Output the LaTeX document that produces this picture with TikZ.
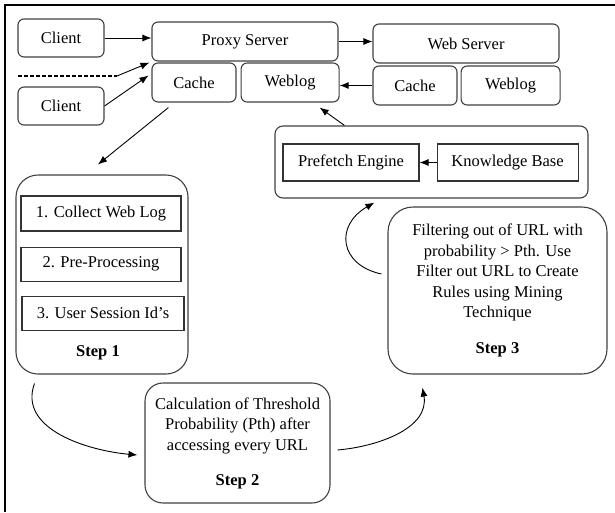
\documentclass[tikz,border=0pt]{standalone}
\usepackage{fontspec}
\setmainfont{Liberation Serif}
\usetikzlibrary{arrows.meta,positioning,calc}

\begin{document}
\begin{tikzpicture}[x=1pt, y=1pt, >={Latex[length=9pt,width=7pt]},
      every node/.style={font=\fontsize{16.5}{20.5}\selectfont},
      rbox/.style={draw=black!75, line width=1.1pt, rounded corners=6pt, inner sep=0pt},
      sbox/.style={draw=black!80, line width=1.1pt, inner sep=0pt},
      stepbox/.style={rbox, align=center},
      link/.style={->, line width=0.9pt}]
     \useasboundingbox (0,0) rectangle (615,-512);
     % frame, only top and left edges
     \draw[line width=2.2pt] (5,-512) -- (5,-5) -- (615,-5);

     % clients, proxy and web server
     \node[rbox, minimum width=86pt, minimum height=38pt] (client1) at (61,-38) {Client};
     \node[rbox, minimum width=86pt, minimum height=38pt] (client2) at (61,-106) {Client};
     \node[rbox, minimum width=186pt, minimum height=39pt] (proxy) at (245,-41.5) {Proxy Server};
     \node[rbox, minimum width=84pt, minimum height=39pt] (pcache) at (194,-82.5) {Cache};
     \node[rbox, minimum width=98pt, minimum height=39pt, right=4pt of pcache] (pweblog) {Weblog};
     \node[rbox, minimum width=186pt, minimum height=39pt] (web) at (466,-43.5) {Web Server};
     \node[rbox, minimum width=84pt, minimum height=39pt] (wcache) at (415,-85.5) {Cache};
     \node[rbox, minimum width=99pt, minimum height=39pt, right=3pt of wcache] (wweblog) {Weblog};

     % prefetching block
     \node[rbox, minimum width=313pt, minimum height=72pt, rounded corners=8pt] (prefetch) at (431.5,-162) {};
     \node[sbox, minimum width=136pt, minimum height=37pt] (engine) at (351,-162.5) {Prefetch Engine};
     \node[sbox, minimum width=141pt, minimum height=37pt, right=17pt of engine] (kbase) {Knowledge Base};

     % step 1
     \node[rbox, minimum width=172pt, minimum height=199pt, rounded corners=22pt] (step1) at (102,-274.5) {};
     \node[sbox, minimum width=160pt, minimum height=35pt] (item1) at (101,-213.5) {1. Collect Web Log};
     \node[sbox, minimum width=160pt, minimum height=34pt, below=15pt of item1] (item2) {2. Pre-Processing\hspace{28pt}};
     \node[sbox, minimum width=162pt, minimum height=34pt, below=14pt of item2, xshift=2pt] (item3) {3. User Session Id’s};
     \node[font=\fontsize{16.5}{20.5}\selectfont\bfseries] (step1lbl) at ($(step1.south)+(-4,22)$) {Step 1};

     % step 2 and step 3
     \node[stepbox, minimum width=185pt, minimum height=120pt, rounded corners=18pt] (step2) at (237.5,-443)
       {Calculation of Threshold\\Probability (Pth) after\\accessing every URL\\[14.5pt]\textbf{Step 2}};
     \node[stepbox, minimum width=219pt, minimum height=167pt, rounded corners=25pt] (step3) at (497.5,-290.5)
       {Filtering out of URL with\\probability > Pth. Use\\Filter out URL to Create\\Rules using Mining\\Technique\\[15.5pt]\textbf{Step 3}};

     % connectors
     \coordinate (dashL) at (18,-76);
     \coordinate (dashR) at (117,-76);
     \draw[line width=1.5pt, dash pattern=on 4pt off 2pt] (dashL) -- (dashR);
     \draw[link] (dashR) -- ($(proxy.south west)+(-2,-1)$);
     \draw[link] (client1.east) -- (client1.east -| proxy.west);
     \draw[link] (client2.east) -- ($(pcache.west)+(-3,7)$);
     \draw[link] (proxy.east) -- (proxy.east -| web.west);
     \draw[link] (wcache.west) -- (wcache.west -| pweblog.east);
     \draw[link] ($(prefetch.north west)+(70,0)$) -- ($(pweblog.south east)+(-20,-5)$);
     \draw[link] (kbase.west) -- (engine.east);
     \draw[link] ($(pcache.south west)+(17,-5)$) -- ($(step1.north)+(-4,10)$);
     \draw[link] ($(step1.south west)+(19,-9)$) to[out=-110, in=175] ($(step2.west)+(-7,-12)$);
     \draw[link] ($(step2.east)+(7,-7)$) to[out=5, in=-80] ($(step3.south west)+(35,-13)$);
     \draw[link] ($(step3.west)+(-6,16.5)$) .. controls +(-42,9) and +(-40,-23) .. ($(prefetch.south west)+(100,-4)$);
    \end{tikzpicture}
\end{document}
